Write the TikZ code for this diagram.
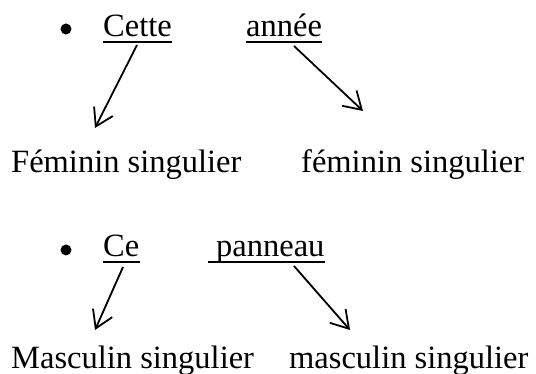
\documentclass[tikz,border=0pt]{standalone}
\usepackage{fontspec}
\setmainfont{Liberation Serif}
\usetikzlibrary{arrows.meta}
\begin{document}
\begin{tikzpicture}[x=1pt,y=-1pt,
  word/.style={anchor=base west, inner sep=0pt, font=\fontsize{32.5}{38}\selectfont},
  link/.style={line width=1.8pt, -{Straight Barb[length=17pt,width=21pt,line width=1.8pt]}},
  uline/.style={line width=1.6pt},
  dot/.style={circle, fill=black, inner sep=0pt, minimum size=11pt}]
\useasboundingbox (0,0) rectangle (536,374);
% first example
\node[dot] (b1) at (66,29) {};
\node[word] (cette) at (103,37) {Cette};
\node[word] (annee) at (246,37) {année};
\node[word] (fem1) at (11,173) {Féminin singulier};
\node[word] (fem2) at (301,173) {féminin singulier};
\draw[uline] ([yshift=-5pt]cette.base west) -- ([yshift=-5pt]cette.base east);
\draw[uline] ([yshift=-5pt]annee.base west) -- ([yshift=-5pt]annee.base east);
\coordinate (a1s) at (137,45);
\coordinate (a1e) at (95,128);
\coordinate (a2s) at (294,46);
\coordinate (a2e) at (363,111);
\draw[link] (a1s) -- (a1e);
\draw[link] (a2s) -- (a2e);
% second example
\node[dot] (b2) at (66,250) {};
\node[word] (ce) at (103,257) {Ce};
\node[word] (panneau) at (216,257) {panneau};
\node[word] (masc1) at (11,368) {Masculin singulier};
\node[word] (masc2) at (289,368) {masculin singulier};
\draw[uline] ([yshift=-5pt]ce.base west) -- ([yshift=-5pt]ce.base east);
\draw[uline] ([xshift=-8pt,yshift=-5pt]panneau.base west) -- ([yshift=-5pt]panneau.base east);
\coordinate (a3s) at (123,267);
\coordinate (a3e) at (95,330);
\coordinate (a4s) at (294,266);
\coordinate (a4e) at (350,330);
\draw[link] (a3s) -- (a3e);
\draw[link] (a4s) -- (a4e);
\end{tikzpicture}
\end{document}
